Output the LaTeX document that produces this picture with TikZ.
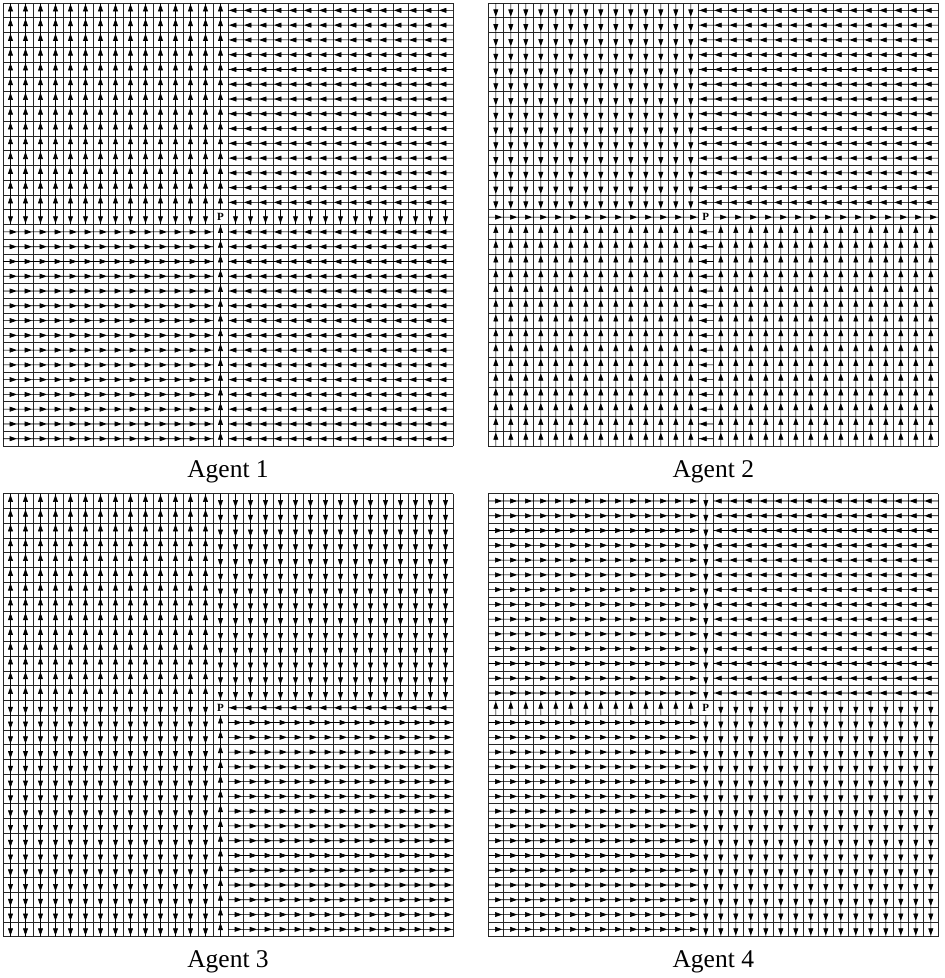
\documentclass[tikz,border=0pt]{standalone}
\usepackage{fontspec}
\setmainfont{Liberation Serif}
\tikzset{
  every picture/.style={line width=0.7pt},
  cellgrid/.style={draw=black!85, line width=0.7pt},
  vec/.style={draw=black, fill=black, line width=0.6pt},
  caption/.style={font=\fontsize{25.5}{30}\selectfont, anchor=base},
  goal/.style={font=\bfseries\fontsize{11}{13}\selectfont, inner sep=0pt},
}
\newcommand\cw{15}
\newcommand\ch{14.77}
% one panel: grid, then a block of equal arrows per region
\newcommand\policypanel[2]{%
  \foreach \i in {0,...,30}{
    \draw[cellgrid] ({\i*\cw},0) -- ({\i*\cw},{30*\ch});
    \draw[cellgrid] (0,{\i*\ch}) -- ({30*\cw},{\i*\ch});
  }
  \foreach \ca/\cb/\ra/\rb/\dx/\dy in {#1}
    \foreach \c in {\ca,...,\cb}
      \foreach \r in {\ra,...,\rb}
        \filldraw[vec] ({(\c+0.5-0.5*\dx)*\cw},{(\r+0.5-0.5*\dy)*\ch}) -- ({(\c+0.5+0.5*\dx)*\cw},{(\r+0.5+0.5*\dy)*\ch})
          ({(\c+0.5)*\cw+\dx*(0.5*\cw-2)},{(\r+0.5)*\ch+\dy*(0.5*\ch-2)}) -- ++({-6*\dx-2.1*\dy},{-6*\dy+2.1*\dx}) -- ++({4.2*\dy},{-4.2*\dx}) -- cycle;
  \node[goal] (#2) at ({14.5*\cw},{14.5*\ch}) {P};
}

\begin{document}
\begin{tikzpicture}[x=1pt,y=-1pt]
  \useasboundingbox (0,0) rectangle (945,978);
  % agent 1
  \begin{scope}[shift={(3,3)}]
    \policypanel{0/14/0/13/0/-1, 15/29/0/13/-1/0, 0/13/14/14/0/1, 15/29/14/14/0/1,
      0/13/15/29/1/0, 14/14/15/29/0/-1, 15/29/15/29/-1/0}{p1}
  \end{scope}
  \node[caption] (lab1) at (228,477) {Agent 1};
  % agent 2
  \begin{scope}[shift={(488.3,3)}]
    \policypanel{0/13/0/13/0/1, 14/29/0/13/-1/0, 0/13/14/14/1/0, 15/29/14/14/1/0,
      0/13/15/29/0/-1, 14/14/15/29/-1/0, 15/29/15/29/0/-1}{p2}
  \end{scope}
  \node[caption] (lab2) at (713.3,477) {Agent 2};
  % agent 3
  \begin{scope}[shift={(3,493.6)}]
    \policypanel{0/13/0/13/0/-1, 0/13/14/29/0/1, 14/29/0/13/0/1, 15/29/14/14/-1/0,
      15/29/15/29/1/0, 14/14/15/29/0/-1}{p3}
  \end{scope}
  \node[caption] (lab3) at (228,967.6) {Agent 3};
  % agent 4
  \begin{scope}[shift={(488.3,493.6)}]
    \policypanel{0/13/0/13/1/0, 14/14/0/13/0/1, 15/29/0/13/-1/0, 0/13/14/14/0/-1,
      15/29/14/14/0/1, 0/13/15/29/1/0, 14/14/15/29/0/1, 15/29/15/29/0/1}{p4}
  \end{scope}
  \node[caption] (lab4) at (713.3,967.6) {Agent 4};
\end{tikzpicture}
\end{document}
